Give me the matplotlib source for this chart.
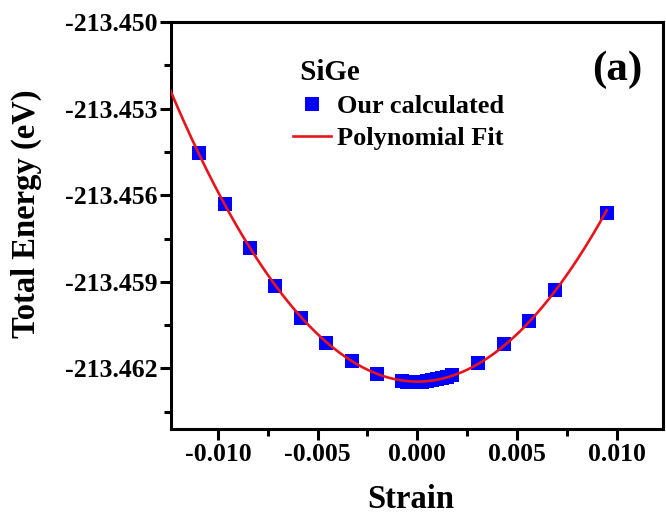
import numpy as np
import matplotlib
matplotlib.use('Agg')
import matplotlib.pyplot as plt
from matplotlib.ticker import MultipleLocator, FormatStrFormatter

plt.rcParams['font.family'] = ['Liberation Serif', 'DejaVu Serif']
plt.rcParams['font.weight'] = 'bold'

# === data
strain = [-0.01096, -0.00967, -0.00840, -0.00712, -0.00583, -0.00458, -0.00329, -0.00202,
          -0.00075, -0.00050, -0.00025, 0.00000, 0.00025, 0.00050, 0.00075, 0.00100,
          0.00125, 0.00150, 0.00175,
          0.00307, 0.00436, 0.00563, 0.00692, 0.00951]
energy = [-213.45452, -213.45630, -213.45783, -213.45915, -213.46025, -213.46111, -213.46176, -213.46221,
          -213.46244, -213.46246, -213.46247, -213.46247, -213.46246, -213.46244, -213.46241, -213.46238,
          -213.46234, -213.46229, -213.46224,
          -213.46180, -213.46117, -213.46034, -213.45928, -213.45660]

xticks = [-0.010, -0.005, 0.000, 0.005, 0.010]
yticks = [-213.450, -213.453, -213.456, -213.459, -213.462]

# === polynomial fit of the points
coef = np.polyfit(strain, energy, 2)
xfit = np.linspace(-0.0124, max(strain), 300)
yfit = np.polyval(coef, xfit)

fig = plt.figure(figsize=(6.66, 5.15), dpi=100)
ax = fig.add_axes([0.2568, 0.167, 0.7387, 0.790])

ax.plot(strain, energy, 's', color='#0000ff', markersize=9.5, markeredgewidth=0,
        label='Our calculated', zorder=2)
ax.plot(xfit, yfit, '-', color='#e8141c', linewidth=1.9, label='Polynomial Fit', zorder=3)

ax.set_xlim(-0.01236, 0.01233)
ax.set_ylim(-213.4641, -213.4500)
ax.set_xticks(xticks)
ax.set_yticks(yticks)
ax.xaxis.set_minor_locator(MultipleLocator(0.0025))
ax.yaxis.set_minor_locator(MultipleLocator(0.0015))
ax.xaxis.set_major_formatter(FormatStrFormatter('%.3f'))
ax.yaxis.set_major_formatter(FormatStrFormatter('%.3f'))

for s in ax.spines.values():
    s.set_linewidth(2.2)
ax.tick_params(which='major', direction='out', length=8, width=2.2, labelsize=18.5, pad=2)
ax.tick_params(which='minor', direction='out', length=5, width=2.2)
for lab in ax.get_xticklabels() + ax.get_yticklabels():
    lab.set_fontweight('bold')

ax.set_xlabel('Strain', fontsize=23.5, fontweight='bold')
ax.set_ylabel('Total Energy (eV)', fontsize=23.5, fontweight='bold')
ax.xaxis.set_label_coords(0.487, -0.135)
ax.yaxis.set_label_coords(-0.262, 0.53)

leg = ax.legend(title=' SiGe', loc='upper left', bbox_to_anchor=(0.20, 0.967), frameon=False,
                prop={'size': 19, 'weight': 'bold'}, handlelength=1.45, handletextpad=0.2,
                labelspacing=0.32, alignment='left')
leg.get_title().set_fontsize(21)
leg.get_title().set_fontweight('bold')

ax.text(0.906, 0.882, '(a)', transform=ax.transAxes, fontsize=31, fontweight='bold',
        ha='center', va='center')

fig.savefig('out.png', dpi=100)
